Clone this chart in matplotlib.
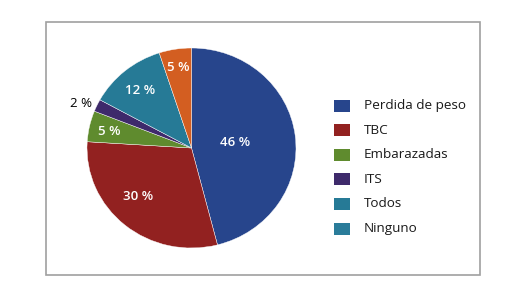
import matplotlib.pyplot as plt
from matplotlib.patches import Rectangle
import numpy as np

plt.rcParams['font.family'] = ['Open Sans', 'DejaVu Sans']

# slices in drawing order (clockwise from top)
values = [46, 30, 5, 2, 12, 5]
slice_colors = ['#27458c', '#922120', '#5f8b2e', '#3e2a6b', '#267a96', '#d35e21']
pct_labels = ['46 %', '30 %', '5 %', '2 %', '12 %', '5 %']

# legend as printed in the source
legend_labels = ['Perdida de peso', 'TBC', 'Embarazadas', 'ITS', 'Todos', 'Ninguno']
legend_colors = ['#27458c', '#922120', '#5f8b2e', '#3e2a6b', '#267a96', '#2a7c9a']

W, H = 510, 281
fig = plt.figure(figsize=(W / 100, H / 100), dpi=100)

# outer frame
fig.patches.append(Rectangle((46 / W, 1 - 275 / H), 434 / W, 253 / H,
                             transform=fig.transFigure, fill=False,
                             edgecolor='#a0a0a0', linewidth=1.2))

# pie axes: slightly wider than tall, like the source
cx, cy, rx, ry = 191.5, 148, 104.5, 100
ax = fig.add_axes([(cx - rx) / W, 1 - (cy + ry) / H, 2 * rx / W, 2 * ry / H])
wedges, _ = ax.pie(values, colors=slice_colors, startangle=90, counterclock=False,
                   radius=1, wedgeprops=dict(edgecolor='white', linewidth=0.3))
ax.set_xlim(-1, 1)
ax.set_ylim(-1, 1)
ax.set_aspect('auto')
ax.axis('off')

# label placement (distance from center, angle shift) per slice
label_r = [0.42, 0.70, 0.80, 1.15, 0.76, 0.82]
label_shift = [1, -7, 0.6, 2.6, 1.2, 0]
label_color = ['white', 'white', 'white', 'black', 'white', 'white']
for w, txt, lr, sh, c in zip(wedges, pct_labels, label_r, label_shift, label_color):
    ang = np.deg2rad((w.theta1 + w.theta2) / 2 + sh)
    ax.text(lr * np.cos(ang), lr * np.sin(ang), txt, ha='center', va='center',
            color=c, fontsize=9.5, fontweight='semibold' if c == 'white' else 'normal')

# legend drawn by hand
y0, dy = 105.5, 24.6
for i, (lab, col) in enumerate(zip(legend_labels, legend_colors)):
    yc = y0 + i * dy
    fig.patches.append(Rectangle((334 / W, 1 - (yc + 6) / H), 16 / W, 12 / H,
                                 transform=fig.transFigure, facecolor=col,
                                 edgecolor='none'))
    fig.text(364 / W, 1 - yc / H, lab, ha='left', va='center', fontsize=9.7,
             color='#1a1a1a')

plt.savefig('out.png', dpi=100)
